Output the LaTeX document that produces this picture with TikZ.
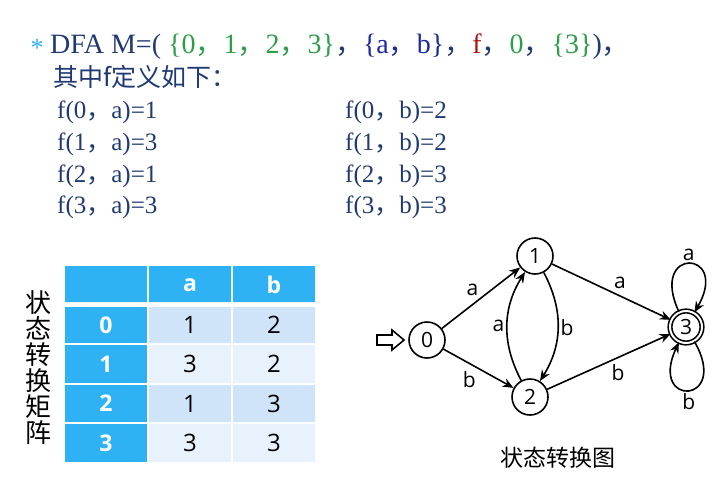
\documentclass[tikz,border=0pt]{standalone}
\usepackage{fontspec}
\setmainfont{Liberation Serif}
\setsansfont{Open Sans}
\newfontfamily\cjk{Noto Sans CJK SC}
\usetikzlibrary{arrows.meta}
\definecolor{ink}{HTML}{1F3A73}
\definecolor{setgreen}{HTML}{2E9E4A}
\definecolor{setblue}{HTML}{1C2A9E}
\definecolor{fred}{HTML}{B01010}
\definecolor{head}{HTML}{2FB2F4}
\definecolor{cellA}{HTML}{CFE4F8}
\definecolor{cellB}{HTML}{E8F2FC}
\begin{document}
\begin{tikzpicture}[x=1pt,y=-1pt,
    line/.style={anchor=base west, inner sep=0pt, text=ink, font=\fontsize{25}{25}\selectfont},
    hcell/.style={text=white, font=\sffamily\bfseries\fontsize{23}{23}\selectfont},
    vcell/.style={font=\sffamily\fontsize{24}{24}\selectfont},
    state/.style={circle, draw, line width=1.6pt, minimum size=36pt, inner sep=0pt, font=\sffamily\fontsize{21}{21}\selectfont},
    lab/.style={font=\sffamily\fontsize{21}{21}\selectfont, inner sep=2pt}]
  \useasboundingbox (0,0) rectangle (719,479);
  % definition
  \node [anchor=base west, text=head, font=\fontsize{26}{26}\selectfont] (star) at (27,56) {*};
  \node [line, font=\fontsize{28}{28}\selectfont] (dfa) at (50,53) {DFA M=( \textcolor{setgreen}{\{0{\cjk，}1{\cjk，}2{\cjk，}3\}}{\cjk，}\textcolor{setblue}{\{a{\cjk，}b\}}{\cjk，}\textcolor{fred}{f}{\cjk，}\textcolor{setgreen}{0}{\cjk，}\textcolor{setgreen}{\{3\}}){\cjk，}};
  \node [line, font=\cjk\fontsize{25}{25}\selectfont] (def) at (53,86) {其中f定义如下：};
  \node [line] (fa0) at (57,118) {f(0{\cjk，}a)=1};
  \node [line] (fa1) at (57,150) {f(1{\cjk，}a)=3};
  \node [line] (fa2) at (57,182) {f(2{\cjk，}a)=1};
  \node [line] (fa3) at (57,213) {f(3{\cjk，}a)=3};
  \node [line] (fb0) at (345,118) {f(0{\cjk，}b)=2};
  \node [line] (fb1) at (345,150) {f(1{\cjk，}b)=2};
  \node [line] (fb2) at (345,182) {f(2{\cjk，}b)=3};
  \node [line] (fb3) at (345,213) {f(3{\cjk，}b)=3};
  % matrix
  \node [align=center, font=\cjk\fontsize{26}{26}\selectfont] (mlab) at (38,368) {状\\态\\转\\换\\矩\\阵};
  \fill [head] (65,266) rectangle (147,302) (149,266) rectangle (231,302) (233,266) rectangle (315,302);
  \node [hcell] (ha) at (190,285) {a};
  \node [hcell] (hb) at (274,285) {b};
  \foreach \r/\top/\bot/\c/\va/\vb in {0/307/343/cellA/1/2, 1/345/383/cellB/3/2, 2/385/422/cellA/1/3, 3/424/462/cellB/3/3} {
    \fill [head] (65,\top) rectangle (147,\bot);
    \fill [\c] (149,\top) rectangle (231,\bot) (233,\top) rectangle (315,\bot);
    \node [hcell] (r\r) at (106,{(\top+\bot)/2}) {\r};
    \node [vcell] (ra\r) at (190,{(\top+\bot)/2}) {\va};
    \node [vcell] (rb\r) at (274,{(\top+\bot)/2}) {\vb};
  }
  % graph
  \node [state] (0) at (427,340) {0};
  \node [state] (1) at (535,256) {1};
  \node [state] (2) at (530,397) {2};
  \node [state, double, double distance=2pt, minimum size=32pt] (3) at (686,327) {3};
  \draw [line width=1.6pt] (377,335) -- (392,335) -- (392,330) -- (404,340) -- (392,350) -- (392,345) -- (377,345) -- cycle;
  \begin{scope}[-{Stealth[length=11pt, width=9pt]}, line width=1.6pt]
    \draw (0) -- node [lab, above left] {a} (1);
    \draw (0) -- node [lab, below left] {b} (2);
    \draw (1) -- node [lab, above right] {a} (3);
    \draw (2) -- node [lab, below right] {b} (3);
    \draw (1) to [bend left=30] node [lab, right] {b} (2);
    \draw (2) to [bend left=30] node [lab, left] {a} (1);
    \draw (3) to [out=115, in=60, looseness=12] node [lab, above] {a} (3);
    \draw (3) to [out=-60, in=-115, looseness=12] node [lab, below] {b} (3);
  \end{scope}
  \node [font=\cjk\fontsize{23}{23}\selectfont] (glab) at (558,458) {状态转换图};
\end{tikzpicture}
\end{document}
